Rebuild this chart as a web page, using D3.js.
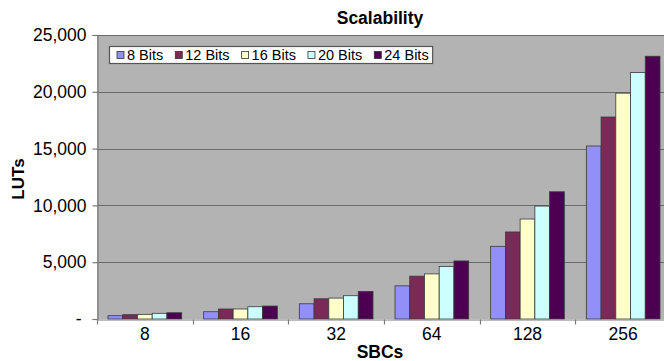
<!DOCTYPE html>
<html>
<head>
<meta charset="utf-8">
<script src="https://cdn.jsdelivr.net/npm/d3@7"></script>
<style>
  body { margin: 0; background: #fff; }
  text { font-family: 'Liberation Sans', Arial, sans-serif; fill: #000; }
</style>
</head>
<body>
<div id="chart"></div>
<script>
// categories and series
const sbcs = ['8', '16', '32', '64', '128', '256']
const seriesNames = ['8 Bits', '12 Bits', '16 Bits', '20 Bits', '24 Bits']
const bits8 = [290, 640, 1340, 2920, 6400, 15230]
const bits12 = [380, 880, 1780, 3770, 7660, 17780]
const bits16 = [410, 880, 1840, 3970, 8800, 19880]
const bits20 = [500, 1080, 2050, 4620, 9940, 21690]
const bits24 = [550, 1140, 2430, 5110, 11200, 23130]
const yTicks = [0, 5000, 10000, 15000, 20000, 25000]
const colors = ['#9290f8', '#7b2a58', '#ffffcc', '#ccffff', '#4c0052']

const seriesValues = [bits8, bits12, bits16, bits20, bits24]
const rows = sbcs.map((c, i) => {
  const r = { cat: c }
  seriesNames.forEach((s, j) => { r[s] = seriesValues[j][i] })
  return r
})

const W = 664
const H = 361
const plot = { left: 97, top: 35, right: 671, bottom: 319 }

const svg = d3.select('#chart').append('svg')
  .attr('width', W)
  .attr('height', H)

const x0 = d3.scaleBand()
  .domain(sbcs)
  .range([plot.left, plot.right])
  .padding(0)

const x1 = d3.scaleBand()
  .domain(seriesNames)
  .range([11, x0.bandwidth() - 11])
  .padding(0)

const y = d3.scaleLinear()
  .domain([0, 25000])
  .range([plot.bottom, plot.top])

// plot area
svg.append('rect')
  .attr('x', plot.left)
  .attr('y', plot.top)
  .attr('width', plot.right - plot.left)
  .attr('height', plot.bottom - plot.top)
  .attr('fill', '#b3b3b3')

// gridlines
svg.append('g')
  .selectAll('line')
  .data(yTicks.filter(d => d > 0))
  .join('line')
  .attr('x1', plot.left)
  .attr('x2', plot.right)
  .attr('y1', d => Math.round(y(d)) + 0.5)
  .attr('y2', d => Math.round(y(d)) + 0.5)
  .attr('stroke', '#6a6a6a')
  .attr('stroke-width', 1.2)

// bars
svg.append('g')
  .selectAll('g')
  .data(rows)
  .join('g')
  .attr('transform', d => `translate(${x0(d.cat)},0)`)
  .selectAll('rect')
  .data(d => seriesNames.map((s, j) => ({ key: s, value: d[s], color: colors[j] })))
  .join('rect')
  .attr('x', d => x1(d.key))
  .attr('y', d => y(d.value))
  .attr('width', x1.bandwidth())
  .attr('height', d => y(0) - y(d.value))
  .attr('fill', d => d.color)
  .attr('stroke', '#3a3a3a')
  .attr('stroke-width', 0.8)

// y axis
const yAxis = svg.append('g')
  .attr('transform', `translate(${plot.left + 0.5},0)`)
  .call(d3.axisLeft(y).tickValues(yTicks).tickSize(5).tickPadding(6)
    .tickFormat(d => d === 0 ? '-' : d3.format(',')(d)))
yAxis.select('.domain').attr('stroke', '#7a7a7a').attr('stroke-width', 1.2)
yAxis.selectAll('.tick line').attr('stroke', '#7a7a7a').attr('stroke-width', 1.2)
yAxis.selectAll('.tick text')
  .style('font-size', '17.5px')
  .attr('fill', '#000')
yAxis.selectAll('.tick text').filter(d => d === 0).attr('x', -16)

// x axis
const xAxis = svg.append('g')
  .attr('transform', `translate(0,${plot.bottom + 0.5})`)
  .call(d3.axisBottom(x0).tickSize(0).tickPadding(8))
xAxis.select('.domain').attr('stroke', '#7a7a7a').attr('stroke-width', 1.2)
xAxis.selectAll('.tick text')
  .style('font-size', '17.5px')
  .attr('fill', '#000')
// tick marks sit on the band boundaries
xAxis.append('g')
  .selectAll('line')
  .data(sbcs)
  .join('line')
  .attr('x1', d => Math.round(x0(d)) + 0.5)
  .attr('x2', d => Math.round(x0(d)) + 0.5)
  .attr('y1', 0)
  .attr('y2', 5)
  .attr('stroke', '#7a7a7a')
  .attr('stroke-width', 1.2)

// titles
svg.append('text')
  .text('Scalability')
  .attr('x', 380)
  .attr('y', 24)
  .attr('text-anchor', 'middle')
  .style('font-size', '17.5px')
  .style('font-weight', 'bold')

svg.append('text')
  .text('SBCs')
  .attr('x', 380)
  .attr('y', 358)
  .attr('text-anchor', 'middle')
  .style('font-size', '17.5px')
  .style('font-weight', 'bold')

svg.append('text')
  .text('LUTs')
  .attr('transform', 'translate(24,179) rotate(-90)')
  .attr('text-anchor', 'middle')
  .style('font-size', '17px')
  .style('font-weight', 'bold')

// legend
const legend = svg.append('g')
const box = legend.append('rect')
  .attr('x', 109.5)
  .attr('y', 46.5)
  .attr('height', 17)
  .attr('fill', '#fff')
  .attr('stroke', '#555')
  .attr('stroke-width', 1.2)

let lx = 117
seriesNames.forEach((s, j) => {
  legend.append('rect')
    .attr('x', lx)
    .attr('y', 51.5)
    .attr('width', 7)
    .attr('height', 7)
    .attr('fill', colors[j])
    .attr('stroke', '#333')
    .attr('stroke-width', 0.8)
  const t = legend.append('text')
    .text(s)
    .attr('x', lx + 10)
    .attr('y', 60)
    .style('font-size', '14.5px')
  lx += 10 + t.node().getComputedTextLength() + 12
})
box.attr('width', lx - 12 + 4 - 109.5)
</script>
</body>
</html>
